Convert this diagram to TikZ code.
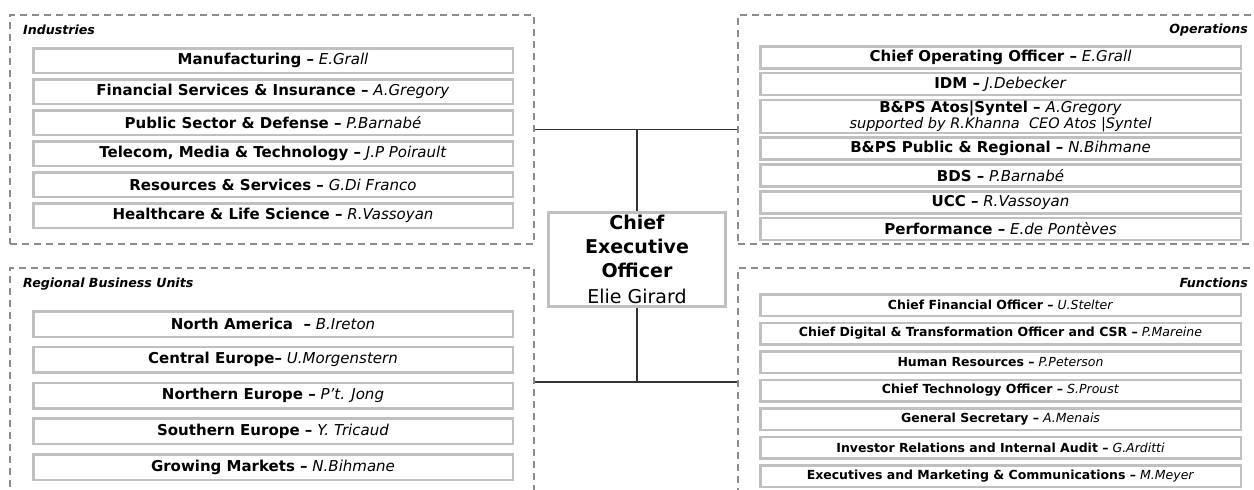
\documentclass[tikz,border=0pt]{standalone}
\usepackage{fontspec}
\setmainfont{DejaVu Sans}[
  BoldFont={DejaVu Sans Bold},
  ItalicFont={DejaVu Sans Oblique},
  BoldItalicFont={DejaVu Sans Bold Oblique}]
\usetikzlibrary{positioning}
\definecolor{boxGray}{RGB}{192,192,192}
\definecolor{dashGray}{RGB}{140,140,140}
\newcommand{\post}[2]{\textbf{#1} \textit{#2}}
\newcommand{\unitGap}[0]{4pt}

\begin{document}
\begin{tikzpicture}[x=1pt, y=-1pt]
  \tikzset{
    groupBox/.style={draw=dashGray, dash pattern=on 7pt off 5pt, line width=1.5pt},
    groupLabel/.style={inner sep=0pt, font=\fontsize{12.6}{14}\selectfont\bfseries\itshape},
    unitBox/.style={draw=boxGray, line width=2.5pt, fill=white, inner sep=0pt, align=center},
    leftUnit/.style={unitBox, minimum width=479.5pt, font=\fontsize{15}{18}\selectfont},
    opsUnit/.style={unitBox, minimum width=480.5pt, minimum height=22pt, font=\fontsize{15}{18}\selectfont},
    funUnit/.style={unitBox, minimum width=480.5pt, minimum height=21.5pt, font=\fontsize{12.5}{14}\selectfont},
    orgLink/.style={draw=black!80, line width=1.2pt}
  }
  \path[use as bounding box, fill=white] (0,0) rectangle (1254,490);
  \clip (0,0) rectangle (1254,490);

  % dashed groups
  \node[groupBox, minimum width=524pt, minimum height=229pt] (ind) at (272,129.5) {};
  \node[groupBox, minimum width=532pt, minimum height=229pt] (ops) at (1004,129.5) {};
  \node[groupBox, minimum width=524pt, minimum height=228pt] (rbu) at (272,382) {};
  \node[groupBox, minimum width=532pt, minimum height=228pt] (fun) at (1004,382) {};
  \node[groupLabel, anchor=west] (indLabel) at (23,30) {Industries};
  \node[groupLabel, anchor=east] (opsLabel) at (1248,30) {Operations};
  \node[groupLabel, anchor=west] (rbuLabel) at (23,284) {Regional Business Units};
  \node[groupLabel, anchor=east] (funLabel) at (1248,283) {Functions};

  % industries
  \node[leftUnit, minimum height=24.5pt] (manu) at (273,60.5) {\post{Manufacturing –}{E.Grall}};
  \node[leftUnit, minimum height=24.5pt, below=\unitGap of manu] (fsi) {\post{Financial Services \& Insurance –}{A.Gregory}};
  \node[leftUnit, minimum height=24.5pt, below=\unitGap of fsi] (psd) {\post{Public Sector \& Defense –}{P.Barnabé}};
  \node[leftUnit, minimum height=24.5pt, below=\unitGap of psd] (tmt) {\post{Telecom, Media \& Technology –}{J.P Poirault}};
  \node[leftUnit, minimum height=24.5pt, below=\unitGap of tmt] (res) {\post{Resources \& Services –}{G.Di Franco}};
  \node[leftUnit, minimum height=24.5pt, below=\unitGap of res] (hls) {\post{Healthcare \& Life Science –}{R.Vassoyan}};

  % operations
  \node[opsUnit] (coo) at (1000.5,57.25) {\post{Chief Operating Officer –}{E.Grall}};
  \node[opsUnit, below=2.3pt of coo] (idm) {\post{IDM –}{J.Debecker}};
  \node[opsUnit, minimum height=33pt, below=2.3pt of idm] (syntel) {\post{B\&PS Atos|Syntel –}{A.Gregory}\\[-2pt]
    {\fontsize{14.5}{16}\selectfont\itshape supported by R.Khanna\ \ CEO Atos |Syntel}};
  \node[opsUnit, below=2.3pt of syntel] (bps) {\post{B\&PS Public \& Regional –}{N.Bihmane}};
  \node[opsUnit, below=2.3pt of bps] (bds) {\post{BDS –}{P.Barnabé}};
  \node[opsUnit, below=2.3pt of bds] (ucc) {\post{UCC –}{R.Vassoyan}};
  \node[opsUnit, below=2.3pt of ucc] (perf) {\post{Performance –}{E.de Pontèves}};

  % regional business units
  \node[leftUnit, minimum height=25.5pt] (nam) at (273,324) {\post{North America\ \ –}{B.Ireton}};
  \node[leftUnit, minimum height=25.5pt, below=7.8pt of nam] (ceu) {\post{Central Europe–}{U.Morgenstern}};
  \node[leftUnit, minimum height=25.5pt, below=7.8pt of ceu] (neu) {\post{Northern Europe –}{P’t. Jong}};
  \node[leftUnit, minimum height=25.5pt, below=7.8pt of neu] (seu) {\post{Southern Europe –}{Y. Tricaud}};
  \node[leftUnit, minimum height=25.5pt, below=7.8pt of seu] (gmk) {\post{Growing Markets –}{N.Bihmane}};

  % functions
  \node[funUnit] (cfo) at (1000.5,305) {\post{Chief Financial Officer –}{U.Stelter}};
  \node[funUnit, below=4.5pt of cfo] (cdo) {\post{Chief Digital \& Transformation Officer and CSR –}{P.Mareine}};
  \node[funUnit, below=4.5pt of cdo] (hr) {\post{Human Resources –}{P.Peterson}};
  \node[funUnit, below=4.5pt of hr] (cto) {\post{Chief Technology Officer –}{S.Proust}};
  \node[funUnit, below=4.5pt of cto] (gs) {\post{General Secretary –}{A.Menais}};
  \node[funUnit, below=4.5pt of gs] (ira) {\post{Investor Relations and Internal Audit –}{G.Arditti}};
  \node[funUnit, below=4.5pt of ira] (emc) {\post{Executives and Marketing \& Communications –}{M.Meyer}};

  % ceo
  \node[unitBox, line width=3pt, minimum width=177pt, minimum height=94pt,
        font=\fontsize{19}{24}\selectfont] (ceo) at (637,259.5)
        {\textbf{Chief}\\\textbf{Executive}\\\textbf{Officer}\\[2pt]Elie Girard};

  \draw[orgLink] (ind.east) -- (ops.west);
  \draw[orgLink] (ceo.north) -- (ceo.north |- ind.east);
  \draw[orgLink] (rbu.east) -- (fun.west);
  \draw[orgLink] (ceo.south) -- (ceo.south |- rbu.east);
\end{tikzpicture}
\end{document}
